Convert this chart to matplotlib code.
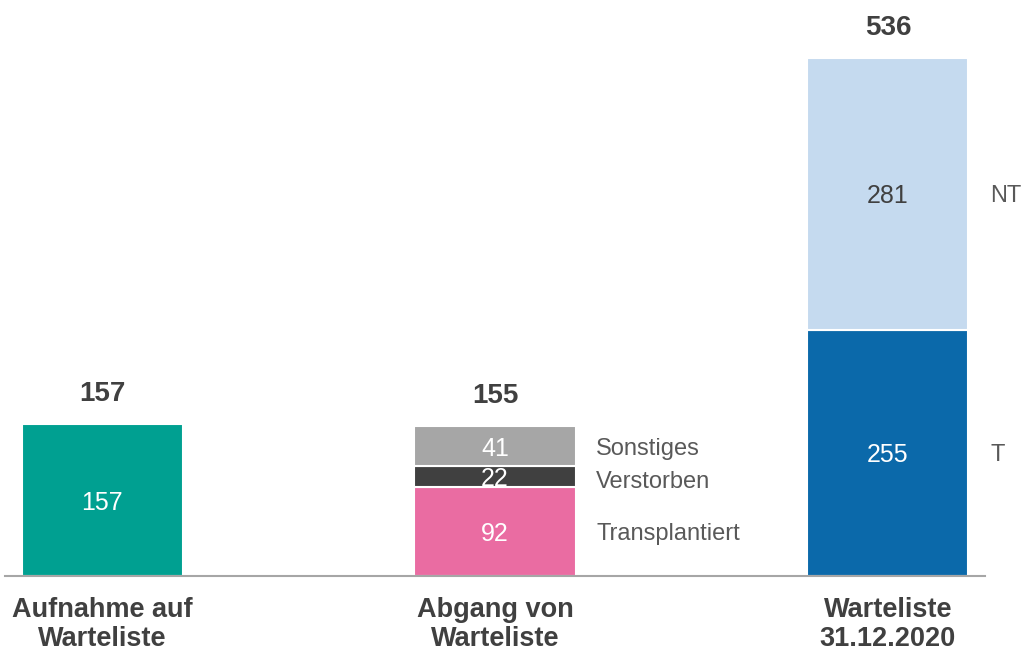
import numpy as np
import matplotlib.pyplot as plt

# Daten
kategorien = ["Aufnahme auf\nWarteliste", "Abgang von\nWarteliste", "Warteliste\n31.12.2020"]
aufnahme = [157]
abgang = [92, 22, 41]
abgang_namen = ["Transplantiert", "Verstorben", "Sonstiges"]
warteliste = [255, 281]
warteliste_namen = ["T", "NT"]

plt.rcParams['font.family'] = ['Liberation Sans', 'DejaVu Sans']

fig = plt.figure(figsize=(10.24, 6.52), dpi=100)
ax = fig.add_axes([5 / 1024, 76 / 652, 980 / 1024, 576 / 652])

breite = 0.41
textfarbe = "#404040"
x = np.arange(3)

# Balken 1
ax.bar(x[0], aufnahme[0], breite, color="#00A091", edgecolor="white", linewidth=1.5)
ax.text(x[0], aufnahme[0] / 2, str(aufnahme[0]), ha="center", va="center_baseline",
        color="white", fontsize=18)

# Balken 2 (gestapelt)
farben2 = ["#EA6CA2", "#404040", "#A6A6A6"]
unten = 0
for wert, name, farbe in zip(abgang, abgang_namen, farben2):
    ax.bar(x[1], wert, breite, bottom=unten, color=farbe, edgecolor="white", linewidth=1.5)
    ax.text(x[1], unten + wert / 2, str(wert), ha="center", va="center_baseline",
            color="white", fontsize=18)
    versatz = -3 if name == "Verstorben" else 0
    ax.text(x[1] + breite / 2 + 0.053, unten + wert / 2 + versatz, name, ha="left",
            va="center_baseline", color="#595959", fontsize=17)
    unten += wert

# Balken 3 (gestapelt)
farben3 = ["#0B69AA", "#C5DAEF"]
zahlfarben3 = ["white", textfarbe]
unten = 0
for wert, name, farbe, zf in zip(warteliste, warteliste_namen, farben3, zahlfarben3):
    ax.bar(x[2], wert, breite, bottom=unten, color=farbe, edgecolor="white", linewidth=1.5)
    ax.text(x[2], unten + wert / 2, str(wert), ha="center", va="center_baseline",
            color=zf, fontsize=18)
    ax.text(x[2] + breite / 2 + 0.056, unten + wert / 2, name, ha="left",
            va="center_baseline", color="#595959", fontsize=17)
    unten += wert

# Summen oben
summen = [sum(aufnahme), sum(abgang), sum(warteliste)]
for xi, s in zip(x, summen):
    ax.text(xi, s + 34, str(s), ha="center", va="center_baseline", color=textfarbe,
            fontsize=20, fontweight="bold")

ax.set_xlim(-0.247, 2.247)
ax.set_ylim(0, 596)
ax.set_xticks(x)
ax.set_xticklabels(kategorien, fontsize=19.5, fontweight="bold", color=textfarbe, linespacing=1.15)
ax.tick_params(axis="x", length=0, pad=15)
ax.set_yticks([])
for s in ["top", "right", "left"]:
    ax.spines[s].set_visible(False)
ax.spines["bottom"].set_color("#A6A6A6")
ax.spines["bottom"].set_linewidth(1.5)

fig.savefig("out.png", dpi=100)
